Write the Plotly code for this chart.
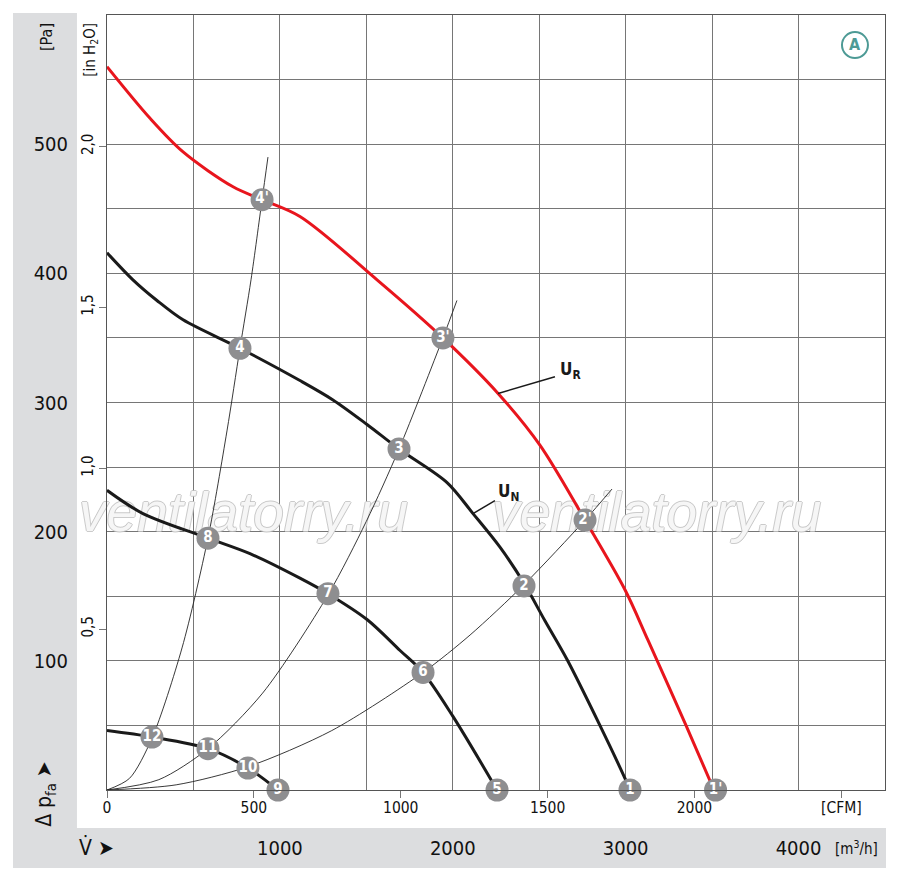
import plotly.graph_objects as go

# Kennlinien (m3/h, Pa)
ur_q = [0, 249, 440, 729, 897, 1116, 1562, 1943, 2262, 2504, 2765, 2996, 3129, 3349, 3511]
ur_p = [560, 520, 494, 467, 457, 444, 395, 350, 307, 267, 209, 155, 116, 50, 0]

un_q = [0, 150, 289, 440, 769, 1116, 1307, 1504, 1689, 1967, 2117, 2273, 2412, 2533, 2661, 2851, 2996, 3025]
un_p = [416, 395, 379, 364, 342, 317, 302, 283, 264, 238, 214, 188, 160, 131, 101, 50, 9, 0]

low_q = [0, 208, 584, 827, 1116, 1278, 1504, 1695, 1828, 2001, 2256]
low_p = [232, 214, 195, 183, 164, 152, 132, 108, 91, 57, 0]

min_q = [0, 260, 584, 815, 989]
min_p = [46, 41, 32, 17, 0]

# Anlagenkennlinien
sysA_q = [0, 130, 260, 434, 584, 694, 769, 833, 897, 931]
sysA_p = [0, 9, 40, 110, 195, 278, 342, 395, 457, 490]
sysB_q = [0, 300, 584, 900, 1278, 1500, 1689, 1943, 2024]
sysB_p = [0, 8, 32, 75, 151, 208, 264, 350, 379]
sysC_q = [0, 400, 815, 1300, 1828, 2100, 2412, 2765, 2921]
sysC_p = [0, 4, 18, 46, 91, 120, 159, 209, 233]

# Betriebspunkte
pt_labels = ["1", "2", "3", "4", "1'", "2'", "3'", "4'", "5", "6", "7", "8", "9", "10", "11", "12"]
pt_q = [3025, 2412, 1689, 769, 3520, 2765, 1943, 897, 2256, 1828, 1278, 584, 989, 815, 584, 260]
pt_p = [0, 158, 264, 342, 0, 209, 350, 457, 0, 91, 152, 195, 0, 17, 32, 41]

pa_ticks = [0, 50, 100, 150, 200, 250, 300, 350, 400, 450, 500, 550, 600]
pa_text = ["", "", "100", "", "200", "", "300", "", "400", "", "500", "", ""]
inh2o_ticks = [0.5, 1.0, 1.5, 2.0]
inh2o_text = ["0,5", "1,0", "1,5", "2,0"]
m3h_ticks = [0, 500, 1000, 1500, 2000, 2500, 3000, 3500, 4000, 4500]
m3h_text = ["", "", "1000", "", "2000", "", "3000", "", "4000", ""]
cfm_ticks = [0, 500, 1000, 1500, 2000, 2500]
cfm_text = ["0", "500", "1000", "1500", "2000", "[CFM]"]

PA_PER_INH2O = 249.089
M3H_PER_CFM = 1.699

FONT = "DejaVu Sans Condensed, Liberation Sans Narrow, Liberation Sans, sans-serif"
GRID = "#767676"
PANEL = "#dcdddf"

fig = go.Figure()

# Wasserzeichen (nur Umriss)
fig.add_trace(go.Scatter(
    x=[790, 3180], y=[211, 211], mode="text",
    text=["ventilatorry.ru", "ventilatorry.ru"],
    textfont=dict(family="Liberation Sans, Arial, sans-serif", size=55, style="italic",
                  color="rgba(255,255,255,0.85)",
                  shadow="1px 0 0 #c2c2c2, -1px 0 0 #c2c2c2, 0 1px 0 #c2c2c2, 0 -1px 0 #c2c2c2"),
    cliponaxis=False, hoverinfo="skip", showlegend=False))

for q, p in [(sysA_q, sysA_p), (sysB_q, sysB_p), (sysC_q, sysC_p)]:
    fig.add_trace(go.Scatter(x=q, y=p, mode="lines",
                             line=dict(color="#222", width=0.9, shape="spline", smoothing=0.8),
                             hoverinfo="skip", showlegend=False))

for q, p in [(min_q, min_p), (low_q, low_p), (un_q, un_p)]:
    fig.add_trace(go.Scatter(x=q, y=p, mode="lines",
                             line=dict(color="#1a1a1a", width=3, shape="spline", smoothing=0.9),
                             showlegend=False))
fig.add_trace(go.Scatter(x=ur_q, y=ur_p, mode="lines",
                         line=dict(color="#e8151d", width=3, shape="spline", smoothing=0.9),
                         showlegend=False))

fig.add_trace(go.Scatter(
    x=pt_q, y=pt_p, mode="markers+text", text=pt_labels, textposition="middle center",
    marker=dict(size=23, color="#8e8e90"),
    textfont=dict(family=FONT, size=15, color="white", weight="bold"),
    cliponaxis=False, showlegend=False))

# leere Spuren fuer die Zweitachsen
fig.add_trace(go.Scatter(x=[], y=[], xaxis="x2", yaxis="y", showlegend=False))
fig.add_trace(go.Scatter(x=[], y=[], xaxis="x", yaxis="y2", showlegend=False))

# Beschriftung U_R / U_N
fig.add_shape(type="line", xref="x", yref="y", x0=2262, y0=307, x1=2591, y1=320,
              line=dict(color="#1a1a1a", width=1.5))
fig.add_shape(type="line", xref="x", yref="y", x0=2117, y0=214, x1=2244, y1=224,
              line=dict(color="#1a1a1a", width=1.5))
fig.add_annotation(x=2610, y=325, xref="x", yref="y", text="<b>U<sub>R</sub></b>", showarrow=False,
                   xanchor="left", yanchor="middle", font=dict(family=FONT, size=17, color="#1a1a1a"))
fig.add_annotation(x=2252, y=230, xref="x", yref="y", text="<b>U<sub>N</sub></b>", showarrow=False,
                   xanchor="left", yanchor="middle", font=dict(family=FONT, size=17, color="#1a1a1a"))

# graue Randflaechen
fig.add_shape(type="rect", xref="paper", yref="paper", x0=-0.1208, x1=-0.0386, y0=-0.1006, y1=1.0026,
              fillcolor=PANEL, line_width=0, layer="below")
fig.add_shape(type="rect", xref="paper", yref="paper", x0=-0.1208, x1=1.0013, y0=-0.1006, y1=-0.049,
              fillcolor=PANEL, line_width=0, layer="below")

# Kreis A
fig.add_shape(type="circle", xref="paper", yref="paper", x0=0.9447, x1=0.9781, y0=0.9445, y1=0.978,
              line=dict(color="#4d9a95", width=2))


def label(x, y, text, size, angle=0, color="#111"):
    fig.add_annotation(x=x, y=y, xref="paper", yref="paper", text=text, textangle=angle,
                       showarrow=False, xanchor="center", yanchor="middle",
                       font=dict(family=FONT, size=size, color=color))


label(0.9614, 0.9613, "<b>A</b>", 16, color="#4d9a95")
label(-0.0784, 0.9716, "[Pa]", 16, -90)
label(-0.0206, 0.955, "[in H<sub>2</sub>O]", 15, -90)
label(-0.0797, -0.005, "Δ p<sub>fa</sub> ➤", 21, -90)
label(-0.0141, -0.0748, "V̇ ➤", 21)
label(0.964, -0.0748, "[m<sup>3</sup>/h]", 15)

fig.update_layout(
    width=884, height=864,
    margin=dict(l=99, r=7, t=7, b=82),
    paper_bgcolor="white", plot_bgcolor="white",
    font=dict(family=FONT, color="#111"),
    xaxis=dict(range=[0, 4500], tickvals=m3h_ticks, ticktext=m3h_text, showgrid=True,
               gridcolor=GRID, gridwidth=1, zeroline=False, showline=True, mirror=True,
               linecolor="#555", linewidth=1, ticks="", ticklabelstandoff=40,
               tickfont=dict(size=20, color="#111")),
    xaxis2=dict(range=[0, 4500 / M3H_PER_CFM], overlaying="x", side="bottom", anchor="y",
                tickvals=cfm_ticks, ticktext=cfm_text, showgrid=False, zeroline=False,
                ticks="outside", ticklen=7, tickcolor=GRID, ticklabelstandoff=-4,
                tickfont=dict(size=15.5, color="#111")),
    yaxis=dict(range=[0, 600], tickvals=pa_ticks, ticktext=pa_text, showgrid=True,
               gridcolor=GRID, gridwidth=1, zeroline=False, showline=True, mirror=True,
               linecolor="#555", linewidth=1, ticks="", ticklabelstandoff=34,
               tickfont=dict(size=20, color="#111")),
    yaxis2=dict(range=[0, 600 / PA_PER_INH2O], overlaying="y", side="left", anchor="x",
                tickvals=inh2o_ticks, ticktext=inh2o_text, showgrid=False, zeroline=False,
                ticks="outside", ticklen=7, tickcolor=GRID, tickangle=-90,
                tickfont=dict(size=15, color="#111")),
)

fig.write_html("out.html")
